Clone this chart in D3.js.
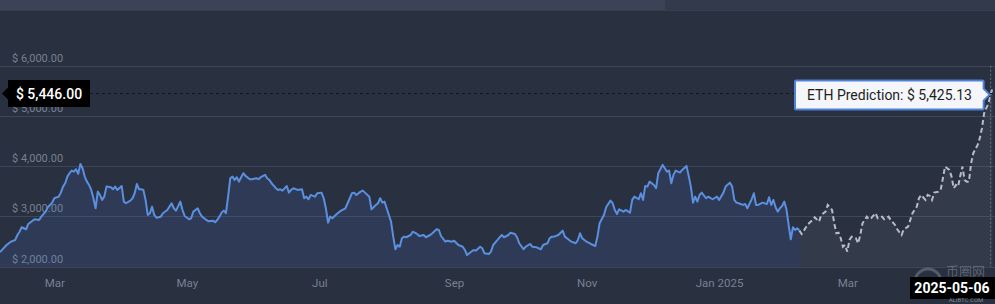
<!DOCTYPE html>
<html>
<head>
<meta charset="utf-8">
<script src="https://cdn.jsdelivr.net/npm/d3@7"></script>
<style>
  body { margin: 0; background: #29303f; }
  svg { display: block; font-family: Roboto, sans-serif; }
</style>
</head>
<body>
<div id="chart"></div>
<script>
// ETH price history
var histDates = [
  '2024-02-05','2024-02-08','2024-02-10','2024-02-12','2024-02-13','2024-02-14','2024-02-15','2024-02-17','2024-02-18','2024-02-20',
  '2024-02-21','2024-02-23','2024-02-24','2024-02-26','2024-02-27','2024-02-29','2024-03-01','2024-03-03','2024-03-04','2024-03-05',
  '2024-03-06','2024-03-07','2024-03-08','2024-03-09','2024-03-10','2024-03-11','2024-03-12','2024-03-13','2024-03-14','2024-03-15',
  '2024-03-16','2024-03-17','2024-03-18','2024-03-19','2024-03-20','2024-03-21','2024-03-22','2024-03-23','2024-03-24','2024-03-25',
  '2024-03-27','2024-03-28','2024-03-29','2024-03-30','2024-04-01','2024-04-02','2024-04-03','2024-04-05','2024-04-06','2024-04-07',
  '2024-04-08','2024-04-09','2024-04-10','2024-04-11','2024-04-12','2024-04-13','2024-04-14','2024-04-15','2024-04-16','2024-04-17',
  '2024-04-19','2024-04-20','2024-04-22','2024-04-23','2024-04-24','2024-04-25','2024-04-26','2024-04-28','2024-04-29','2024-04-30',
  '2024-05-02','2024-05-03','2024-05-04','2024-05-06','2024-05-07','2024-05-08','2024-05-10','2024-05-11','2024-05-13','2024-05-14',
  '2024-05-15','2024-05-16','2024-05-17','2024-05-18','2024-05-19','2024-05-20','2024-05-21','2024-05-22','2024-05-23','2024-05-24',
  '2024-05-25','2024-05-26','2024-05-27','2024-05-28','2024-05-30','2024-05-31','2024-06-02','2024-06-03','2024-06-04','2024-06-06',
  '2024-06-07','2024-06-08','2024-06-09','2024-06-11','2024-06-12','2024-06-13','2024-06-14','2024-06-16','2024-06-17','2024-06-18',
  '2024-06-19','2024-06-21','2024-06-23','2024-06-24','2024-06-25','2024-06-26','2024-06-27','2024-06-29','2024-06-30','2024-07-02',
  '2024-07-03','2024-07-04','2024-07-05','2024-07-06','2024-07-07','2024-07-09','2024-07-11','2024-07-13','2024-07-14','2024-07-16',
  '2024-07-17','2024-07-18','2024-07-20','2024-07-21','2024-07-22','2024-07-24','2024-07-25','2024-07-27','2024-07-28','2024-07-29',
  '2024-07-30','2024-07-31','2024-08-01','2024-08-02','2024-08-03','2024-08-04','2024-08-05','2024-08-06','2024-08-07','2024-08-08',
  '2024-08-09','2024-08-10','2024-08-12','2024-08-13','2024-08-15','2024-08-16','2024-08-18','2024-08-19','2024-08-21','2024-08-22',
  '2024-08-24','2024-08-25','2024-08-26','2024-08-28','2024-08-29','2024-08-31','2024-09-01','2024-09-03','2024-09-05','2024-09-06',
  '2024-09-07','2024-09-08','2024-09-10','2024-09-11','2024-09-13','2024-09-14','2024-09-15','2024-09-17','2024-09-18','2024-09-19',
  '2024-09-21','2024-09-22','2024-09-23','2024-09-24','2024-09-26','2024-09-27','2024-09-29','2024-09-30','2024-10-01','2024-10-03',
  '2024-10-04','2024-10-06','2024-10-07','2024-10-09','2024-10-11','2024-10-12','2024-10-14','2024-10-15','2024-10-16','2024-10-17',
  '2024-10-19','2024-10-21','2024-10-22','2024-10-24','2024-10-25','2024-10-27','2024-10-28','2024-10-29','2024-10-30','2024-11-01',
  '2024-11-03','2024-11-05','2024-11-06','2024-11-07','2024-11-09','2024-11-10','2024-11-12','2024-11-13','2024-11-14','2024-11-15',
  '2024-11-16','2024-11-18','2024-11-19','2024-11-21','2024-11-22','2024-11-23','2024-11-25','2024-11-26','2024-11-27','2024-11-28',
  '2024-11-29','2024-11-30','2024-12-02','2024-12-03','2024-12-04','2024-12-06','2024-12-07','2024-12-08','2024-12-09','2024-12-10',
  '2024-12-11','2024-12-12','2024-12-14','2024-12-15','2024-12-17','2024-12-18','2024-12-19','2024-12-20','2024-12-21','2024-12-22',
  '2024-12-23','2024-12-24','2024-12-26','2024-12-27','2024-12-29','2024-12-31','2025-01-01','2025-01-03','2025-01-04','2025-01-06',
  '2025-01-07','2025-01-08','2025-01-09','2025-01-10','2025-01-12','2025-01-13','2025-01-14','2025-01-16','2025-01-17','2025-01-18',
  '2025-01-19','2025-01-21','2025-01-23','2025-01-24','2025-01-25','2025-01-26','2025-01-27','2025-01-28','2025-01-29','2025-01-30',
  '2025-01-31','2025-02-01','2025-02-02','2025-02-03','2025-02-04','2025-02-05','2025-02-06','2025-02-07'
]
var histPrices = [
  2290,2432,2498,2532,2631,2697,2785,2745,2850,2916,
  2944,2930,2996,3096,3183,3275,3362,3394,3474,3594,
  3661,3793,3860,3912,3892,3940,3847,4045,3960,3793,
  3693,3627,3528,3362,3163,3494,3428,3329,3394,3594,
  3581,3541,3594,3528,3607,3295,3263,3315,3362,3462,
  3647,3541,3541,3528,3329,3030,3064,3195,3030,2976,
  2996,3064,3129,3195,3263,3163,3116,3295,3129,3010,
  2944,2964,3096,3163,3064,2996,2930,2904,2916,2884,
  2930,2996,3076,3116,3064,3394,3761,3793,3727,3781,
  3693,3781,3860,3807,3741,3741,3761,3741,3781,3827,
  3761,3727,3661,3562,3528,3541,3514,3607,3474,3528,
  3562,3528,3541,3362,3394,3342,3428,3394,3462,3474,
  3362,3163,2877,2996,2964,3050,3116,3163,3263,3462,
  3474,3428,3494,3514,3474,3394,3143,3229,3263,3362,
  3275,3295,3163,3030,2897,2598,2347,2432,2398,2566,
  2598,2586,2631,2697,2651,2611,2631,2586,2631,2665,
  2745,2731,2611,2498,2518,2498,2518,2432,2398,2333,
  2233,2267,2333,2319,2398,2367,2267,2253,2299,2432,
  2532,2586,2631,2586,2631,2677,2651,2586,2466,2347,
  2398,2452,2398,2386,2347,2432,2466,2566,2598,2598,
  2631,2717,2598,2532,2498,2466,2532,2665,2566,2498,
  2452,2412,2598,2864,3030,3183,3315,3263,3129,3050,
  3143,3096,3129,3076,3329,3394,3342,3462,3329,3607,
  3594,3693,3627,3562,3860,4026,3960,3892,3912,3661,
  3827,3912,3873,3926,4006,3807,3594,3275,3394,3295,
  3428,3474,3362,3394,3342,3394,3329,3474,3594,3673,
  3594,3329,3275,3263,3229,3249,3163,3342,3462,3229,
  3229,3275,3249,3382,3229,3329,3183,3096,3163,3209,
  3295,3143,2831,2546,2785,2731,2765,2717
]
// prediction series
var predDates = [
  '2025-02-07','2025-02-08','2025-02-10','2025-02-11','2025-02-13','2025-02-14','2025-02-16','2025-02-17','2025-02-19','2025-02-20',
  '2025-02-22','2025-02-23','2025-02-24','2025-02-25','2025-02-26','2025-02-27','2025-02-28','2025-03-01','2025-03-02','2025-03-03',
  '2025-03-05','2025-03-06','2025-03-07','2025-03-08','2025-03-10','2025-03-11','2025-03-12','2025-03-14','2025-03-15','2025-03-17',
  '2025-03-18','2025-03-20','2025-03-21','2025-03-23','2025-03-24','2025-03-26','2025-03-27','2025-03-29','2025-03-30','2025-03-31',
  '2025-04-02','2025-04-03','2025-04-04','2025-04-06','2025-04-07','2025-04-08','2025-04-09','2025-04-10','2025-04-12','2025-04-13',
  '2025-04-14','2025-04-15','2025-04-17','2025-04-18','2025-04-19','2025-04-20','2025-04-21','2025-04-22','2025-04-23','2025-04-24',
  '2025-04-25','2025-04-26','2025-04-27','2025-04-28','2025-04-30','2025-05-01','2025-05-02','2025-05-03','2025-05-05','2025-05-06',
  '2025-05-07'
]
var predPrices = [
  2717,2651,2785,2850,2930,2984,2897,3030,3096,3229,
  3129,2864,2665,2677,2566,2398,2432,2299,2532,2598,
  2566,2466,2631,2864,2996,2944,2964,3064,2964,2996,
  2944,2996,2930,2831,2745,2631,2745,2797,2930,3064,
  3195,3362,3428,3329,3428,3408,3329,3474,3494,3528,
  3761,3992,3926,3793,3562,3627,3594,3807,3992,3727,
  3693,3693,4059,4259,4424,4558,4757,5056,5255,5425.13,
  5580
]
var yTicks = [2000, 3000, 4000, 5000, 6000]
var xTicks = ['2024-03-01','2024-05-01','2024-07-01','2024-09-01','2024-11-01','2025-01-01','2025-03-01']
var currentPrice = 5446.00
var hoverDate = '2025-05-06'
var hoverPrice = 5425.13

var width = 995
var height = 304
var parse = d3.timeParse('%Y-%m-%d')
var hist = histDates.map((d, i) => ({ date: parse(d), value: histPrices[i] }))
var pred = predDates.map((d, i) => ({ date: parse(d), value: predPrices[i] }))

var svg = d3.select('#chart').append('svg')
  .attr('width', width)
  .attr('height', height)

var x = d3.scaleTime()
  .domain([parse('2024-02-05'), parse('2025-05-08')])
  .range([0, width])
var y = d3.scaleLinear()
  .domain([2000, 6000])
  .range([266.7, 65.7])

svg.append('rect').attr('width', width).attr('height', height).attr('fill', '#29303f')

// navigator bar at the top
svg.append('rect').attr('x', 0).attr('y', 0).attr('width', width).attr('height', 10).attr('fill', '#323a4b')
svg.append('rect').attr('x', 0).attr('y', 0).attr('width', 665).attr('height', 10).attr('fill', '#3b4456')
svg.append('line').attr('x1', 0).attr('x2', width).attr('y1', 10.5).attr('y2', 10.5).attr('stroke', '#363e4f')

// grid
svg.append('g').selectAll('line')
  .data(yTicks).enter().append('line')
  .attr('x1', 0).attr('x2', width)
  .attr('y1', d => Math.round(y(d)) + 0.5).attr('y2', d => Math.round(y(d)) + 0.5)
  .attr('stroke', '#3e4658')

svg.append('g').selectAll('text')
  .data(yTicks).enter().append('text')
  .attr('x', 12).attr('y', d => y(d) - 4)
  .attr('font-size', 11).attr('fill', '#788193')
  .text(d => '$ ' + d3.format(',.2f')(d))

// x axis labels
var xAxis = d3.axisBottom(x)
  .tickValues(xTicks.map(parse))
  .tickSize(0)
  .tickFormat(d => d.getMonth() === 0 ? d3.timeFormat('%b %Y')(d) : d3.timeFormat('%b')(d))
var gx = svg.append('g').attr('transform', 'translate(0,276)').call(xAxis)
gx.select('.domain').remove()
gx.selectAll('text').attr('font-size', 11.5).attr('fill', '#788193').attr('font-family', 'Roboto, sans-serif')

// areas
var area = d3.area().x(d => x(d.date)).y0(y(2000)).y1(d => y(d.value))
var line = d3.line().x(d => x(d.date)).y(d => y(d.value))

svg.append('path').datum(hist).attr('d', area).attr('fill', 'rgba(80,120,200,0.17)')
svg.append('path').datum(pred).attr('d', area).attr('fill', 'rgba(190,195,210,0.07)')

svg.append('path').datum(pred).attr('d', line)
  .attr('fill', 'none').attr('stroke', '#b8bcc6').attr('stroke-width', 2)
  .attr('stroke-dasharray', '5,3')
svg.append('path').datum(hist).attr('d', line)
  .attr('fill', 'none').attr('stroke', '#5b8fe0').attr('stroke-width', 2)
  .attr('stroke-linejoin', 'round')

// crosshair
var hx = x(parse(hoverDate))
svg.append('line').attr('x1', hx).attr('x2', hx).attr('y1', y(6000)).attr('y2', y(2000))
  .attr('stroke', '#6c7485').attr('stroke-dasharray', '2,2')

// current price line + label
var cy = y(currentPrice)
svg.append('line').attr('x1', 90).attr('x2', width).attr('y1', cy).attr('y2', cy)
  .attr('stroke', '#131722').attr('stroke-dasharray', '3,3')
svg.append('path')
  .attr('d', `M2,${cy} L8,${cy - 6} L8,${cy - 13.5} L90,${cy - 13.5} L90,${cy + 13.5} L8,${cy + 13.5} L8,${cy + 6} Z`)
  .attr('fill', '#000')
svg.append('text').attr('x', 49).attr('y', cy + 5).attr('text-anchor', 'middle')
  .attr('font-size', 14).attr('font-weight', 500).attr('fill', '#fff')
  .text('$ ' + d3.format(',.2f')(currentPrice))

// prediction tooltip
var ty = y(hoverPrice)
svg.append('path')
  .attr('d', `M${hx - 1},${ty} L${hx - 7},${ty - 6} L${hx - 7},${ty - 13} Q${hx - 7},${ty - 14} ${hx - 8},${ty - 14} L796,${ty - 14} Q795,${ty - 14} 795,${ty - 13} L795,${ty + 14} Q795,${ty + 15} 796,${ty + 15} L${hx - 8},${ty + 15} Q${hx - 7},${ty + 15} ${hx - 7},${ty + 14} L${hx - 7},${ty + 6} Z`)
  .attr('fill', '#f4f6fa').attr('stroke', '#4d82d8').attr('stroke-width', 2)
svg.append('text').attr('x', 807).attr('y', ty + 5.5)
  .attr('font-size', 14).attr('fill', '#1e1e1e')
  .text('ETH Prediction: $ ' + d3.format(',.2f')(hoverPrice))

// watermark
svg.append('circle').attr('cx', 928).attr('cy', 282).attr('r', 13)
  .attr('fill', 'none').attr('stroke', 'rgba(190,195,205,0.3)').attr('stroke-width', 3)
svg.append('text').attr('x', 946).attr('y', 276).attr('font-size', 13)
  .attr('font-family', 'Noto Sans CJK SC').attr('fill', 'rgba(190,195,205,0.35)').text('币圈网')

// hovered date label
svg.append('rect').attr('x', 910).attr('y', 277).attr('width', 85).attr('height', 22).attr('fill', '#000')
svg.append('text').attr('x', 952).attr('y', 293).attr('text-anchor', 'middle')
  .attr('font-size', 14).attr('font-weight', 'bold').attr('fill', '#fff')
  .text(hoverDate)
svg.append('text').attr('x', 966).attr('y', 302).attr('text-anchor', 'middle')
  .attr('font-size', 6).attr('fill', 'rgba(190,195,205,0.6)').text('ALIBTC.COM')
</script>
</body>
</html>
